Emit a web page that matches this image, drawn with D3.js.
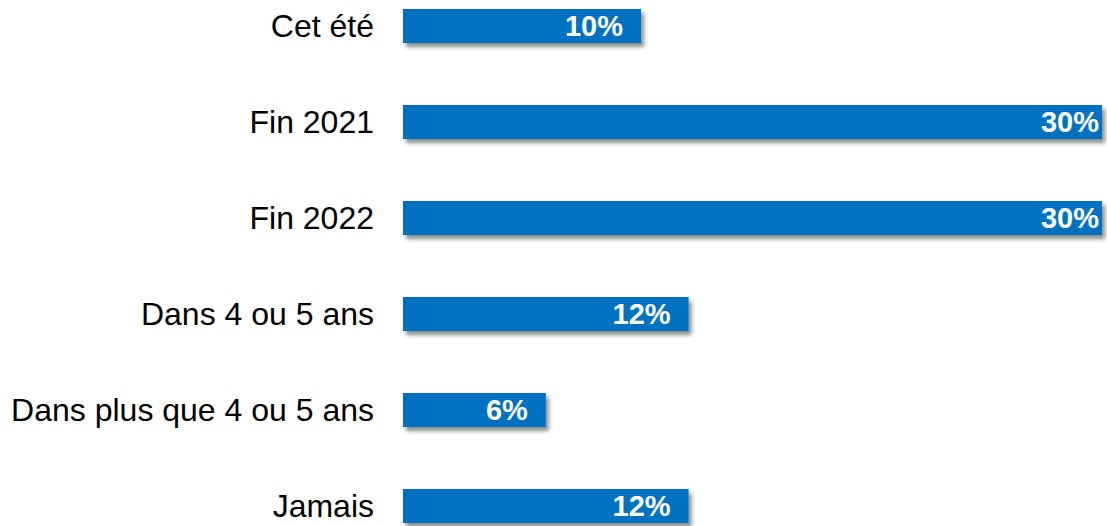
<!DOCTYPE html>
<html><head><meta charset="utf-8">
<script src="https://cdn.jsdelivr.net/npm/d3@7"></script>
<style>html,body{margin:0;padding:0;background:#fff;}svg{display:block;}</style>
</head><body>
<svg id="chart" width="1107" height="526"></svg>
<script>
const categories = ["Cet été", "Fin 2021", "Fin 2022", "Dans 4 ou 5 ans", "Dans plus que 4 ou 5 ans", "Jamais"];
const values = [10, 30, 30, 12, 6, 12];
const valueLabels = ["10%", "30%", "30%", "12%", "6%", "12%"];

const svg = d3.select("#chart");
const x = d3.scaleLinear().domain([0, 30]).range([403, 1117]);
const y = d3.scaleBand().domain(categories).range([9, 523]).paddingInner(0.646).paddingOuter(0);
const plotRight = 1102;

const defs = svg.append("defs");
const f = defs.append("filter").attr("id", "sh").attr("x", "-5%").attr("y", "-10%").attr("width", "115%").attr("height", "130%");
f.append("feDropShadow").attr("dx", 3).attr("dy", 4).attr("stdDeviation", 2).attr("flood-color", "#000").attr("flood-opacity", 0.45);
defs.append("clipPath").attr("id", "plot").append("rect")
  .attr("x", x(0)).attr("y", 0).attr("width", plotRight - x(0)).attr("height", 526);

const data = categories.map((c, i) => ({c, v: values[i], l: valueLabels[i]}));

svg.append("g").attr("filter", "url(#sh)")
  .append("g").attr("clip-path", "url(#plot)")
  .selectAll("rect.bar").data(data).join("rect")
  .attr("class", "bar")
  .attr("x", x(0)).attr("y", d => y(d.c))
  .attr("width", d => x(d.v) - x(0)).attr("height", y.bandwidth())
  .attr("fill", "#0070C0");

svg.selectAll("text.val").data(data).join("text")
  .attr("class", "val")
  .attr("x", d => x(d.v) - 18).attr("y", d => y(d.c) + y.bandwidth() / 2)
  .attr("dy", "0.35em").attr("text-anchor", "end")
  .attr("font-family", "Liberation Sans, Arial, sans-serif").attr("font-weight", "bold")
  .attr("font-size", 29).attr("fill", "#fff").text(d => d.l);

svg.selectAll("text.cat").data(data).join("text")
  .attr("class", "cat")
  .attr("x", 374).attr("y", d => y(d.c) + y.bandwidth() / 2)
  .attr("dy", "0.33em").attr("text-anchor", "end")
  .attr("font-family", "Liberation Sans, Arial, sans-serif")
  .attr("font-size", 32).attr("fill", "#000").text(d => d.c);
</script>
</body></html>
